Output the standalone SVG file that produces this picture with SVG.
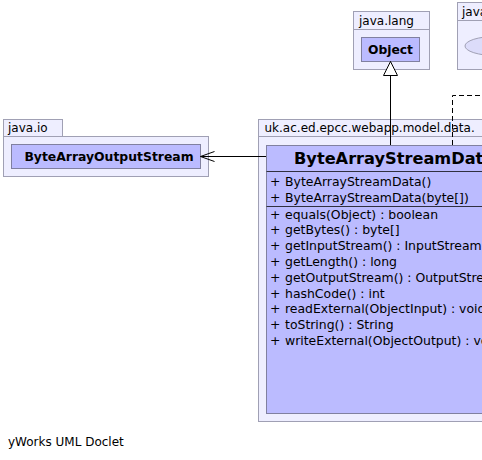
<svg xmlns="http://www.w3.org/2000/svg" width="482" height="460" viewBox="0 0 482 460">
<defs>
<style>
.pkg{fill:#eeeeff;stroke:#a0a0b4;stroke-width:1}
.cls{fill:#bbbbff;stroke:#8080a0;stroke-width:1}
.div{stroke:#303040;stroke-width:1}
.t{font-family:"DejaVu Sans",sans-serif;font-size:12px;fill:#000}
.m{font-family:"DejaVu Sans",sans-serif;font-size:12.45px;fill:#000}
.b{font-family:"DejaVu Sans",sans-serif;font-weight:bold;fill:#000}
.edge{fill:none;stroke:#000;stroke-width:1}
</style>
<marker id="tri" markerWidth="16" markerHeight="18" refX="15" refY="8" orient="auto" markerUnits="userSpaceOnUse">
<path d="M1,1 L15,8 L1,15 Z" fill="#fff" stroke="#000" stroke-width="1"/>
</marker>
<marker id="open" markerWidth="16" markerHeight="14" refX="15" refY="6" orient="auto" markerUnits="userSpaceOnUse">
<path d="M1,1 L15,6 L1,11" fill="none" stroke="#000" stroke-width="1"/>
</marker>
</defs>
<rect width="482" height="460" fill="#fff"/>

<g id="pkg-java-lang">
<rect class="pkg" x="353.5" y="11.5" width="76" height="18"/>
<rect class="pkg" x="353.5" y="29.5" width="76" height="40"/>
<text class="t" x="359" y="24.5">java.lang</text>
</g>
<g id="Object">
<rect class="cls" x="361.5" y="37.5" width="58" height="24"/>
<text class="b" font-size="12.3" x="390.5" y="54" text-anchor="middle">Object</text>
</g>

<g id="pkg-java-other">
<rect class="pkg" x="457.5" y="2.5" width="40" height="18"/>
<rect class="pkg" x="457.5" y="20.5" width="60" height="49"/>
<text class="t" x="462" y="15.5">java</text>
<ellipse cx="495" cy="46" rx="30" ry="9.5" fill="#dcdcfa" stroke="#a0a0b4"/>
</g>

<g id="pkg-java-io">
<rect class="pkg" x="3.5" y="119.5" width="59" height="17"/>
<rect class="pkg" x="3.5" y="136.5" width="205" height="40"/>
<text class="t" x="8" y="132">java.io</text>
</g>
<g id="ByteArrayOutputStream">
<rect class="cls" x="11.5" y="144.5" width="189" height="24"/>
<text class="b" font-size="12.4" x="109" y="161" text-anchor="middle">ByteArrayOutputStream</text>
</g>

<g id="pkg-uk">
<rect class="pkg" x="258.5" y="119.5" width="260" height="17"/>
<rect class="pkg" x="258.5" y="136.5" width="300" height="285"/>
<text class="t" font-size="12.55" x="264.5" y="132">uk.ac.ed.epcc.webapp.model.data.</text>
</g>
<g id="ByteArrayStreamData">
<rect class="cls" x="266.5" y="145.5" width="280" height="268"/>
<line class="div" x1="266.5" y1="171.5" x2="546.5" y2="171.5"/>
<line class="div" x1="266.5" y1="206.5" x2="546.5" y2="206.5"/>
<text class="b" font-size="16.2" x="294" y="164">ByteArrayStreamData</text>
<g class="m">
<text x="270" y="186">+</text><text x="285" y="186">ByteArrayStreamData()</text>
<text x="270" y="201.5">+</text><text x="285" y="201.5">ByteArrayStreamData(byte[])</text>
<text x="270" y="218.5">+</text><text x="285" y="218.5">equals(Object) : boolean</text>
<text x="270" y="234.3">+</text><text x="285" y="234.3">getBytes() : byte[]</text>
<text x="270" y="250.1">+</text><text x="285" y="250.1">getInputStream() : InputStream</text>
<text x="270" y="265.9">+</text><text x="285" y="265.9">getLength() : long</text>
<text x="270" y="281.7">+</text><text x="285" y="281.7">getOutputStream() : OutputStream</text>
<text x="270" y="297.5">+</text><text x="285" y="297.5">hashCode() : int</text>
<text x="270" y="313.3">+</text><text x="285" y="313.3">readExternal(ObjectInput) : void</text>
<text x="270" y="329.1">+</text><text x="285" y="329.1">toString() : String</text>
<text x="270" y="344.9">+</text><text x="285" y="344.9">writeExternal(ObjectOutput) : void</text>
</g>
</g>

<g id="connectors">
<path class="edge" d="M390.5,145 L390.5,61.5" marker-end="url(#tri)"/>
<path class="edge" d="M266,156.5 L200.5,156.5" marker-end="url(#open)"/>
<path class="edge" d="M452.5,145 L452.5,95.5 L490,95.5" stroke-dasharray="5,3"/>
</g>

<text class="t" x="8" y="446">yWorks UML Doclet</text>
</svg>
